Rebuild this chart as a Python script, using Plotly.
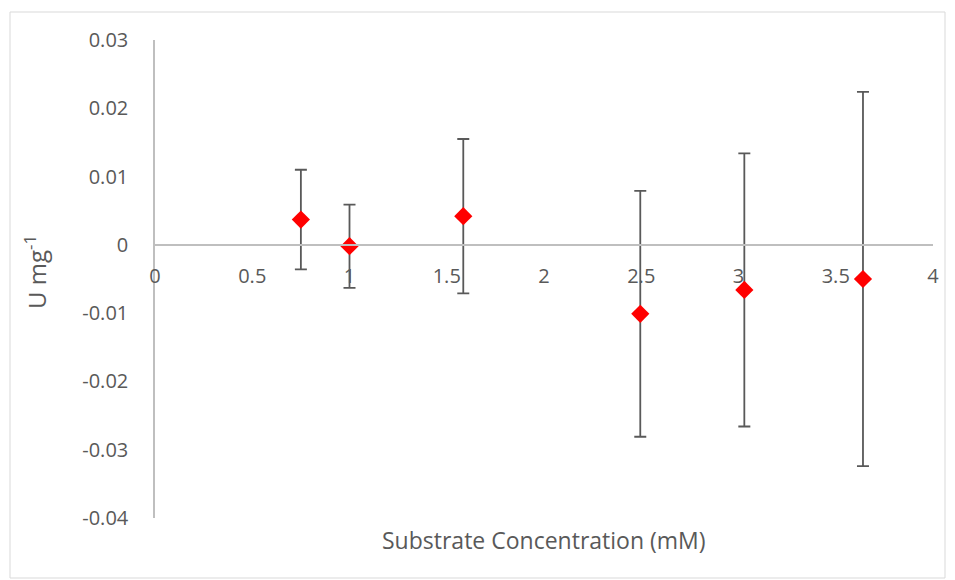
import plotly.graph_objects as go

# Data
substrate_mM = [0.75, 1.0, 1.585, 2.495, 3.03, 3.64]
activity_U_mg = [0.0037, -0.0002, 0.0042, -0.0101, -0.0066, -0.0050]
error_U_mg = [0.0073, 0.0061, 0.0113, 0.0180, 0.0200, 0.0274]

y_tick_vals = [0.03, 0.02, 0.01, 0, -0.01, -0.02, -0.03, -0.04]
y_tick_text = ["0.03", "0.02", "0.01", "0", "-0.01", "-0.02", "-0.03", "-0.04"]
x_tick_vals = [0, 0.5, 1, 1.5, 2, 2.5, 3, 3.5, 4]
x_tick_text = ["0", "0.5", "1", "1.5", "2", "2.5", "3", "3.5", "4"]

x_range = [0, 4]
y_range = [-0.04, 0.03]

FONT = "Open Sans"
TXT = "#595959"
AX = "#bfbfbf"

# page body margin offset (px) so plot area lands where reference shows it
OFF = 8

fig = go.Figure()
fig.add_trace(go.Scatter(
    x=substrate_mM, y=activity_U_mg, mode="markers",
    marker=dict(symbol="diamond", size=14, color="#ff0000", line=dict(width=0)),
    error_y=dict(type="data", array=error_U_mg, visible=True,
                 color="#595959", thickness=1.8, width=6),
    showlegend=False,
))

# x axis crosses y at 0
x_pos = (0 - y_range[0]) / (y_range[1] - y_range[0])

PL, PT, PW, PH = 155, 40, 778, 478  # plot area in page px


def px_x(px):
    return (px - PL) / PW


def px_y(py):
    return (PT + PH - py) / PH


fig.update_layout(
    width=955 - OFF, height=580 - OFF,
    margin=dict(l=PL - OFF, r=22, t=PT - OFF, b=62),
    paper_bgcolor="white", plot_bgcolor="white",
    font=dict(family=FONT, color=TXT, size=21),
    xaxis=dict(range=x_range, tickvals=x_tick_vals, ticktext=x_tick_text,
               showgrid=False, zeroline=False, showline=True, linecolor=AX, linewidth=1.5,
               anchor="free", position=x_pos, ticks="", ticklabelstandoff=13,
               tickfont=dict(family=FONT, size=20, color=TXT)),
    yaxis=dict(range=y_range, tickvals=y_tick_vals, ticktext=y_tick_text,
               showgrid=False, zeroline=False, showline=True, linecolor=AX, linewidth=1.5,
               ticks="", ticklabelstandoff=21,
               tickfont=dict(family=FONT, size=20, color=TXT)),
    shapes=[dict(type="rect", xref="paper", yref="paper",
                 x0=px_x(10), x1=px_x(945), y0=px_y(578), y1=px_y(12),
                 line=dict(color="#d9d9d9", width=1), fillcolor="rgba(0,0,0,0)", layer="below")],
    annotations=[
        dict(text="Substrate Concentration (mM)", xref="paper", yref="paper",
             x=px_x(544), y=px_y(540), showarrow=False,
             xanchor="center", yanchor="middle",
             font=dict(family=FONT, size=23, color=TXT)),
        dict(text="U mg<sup>-1</sup>", xref="paper", yref="paper",
             x=px_x(35), y=px_y(272), showarrow=False, textangle=-90,
             xanchor="center", yanchor="middle",
             font=dict(family=FONT, size=24, color=TXT)),
    ],
)

fig.write_html("out.html")
